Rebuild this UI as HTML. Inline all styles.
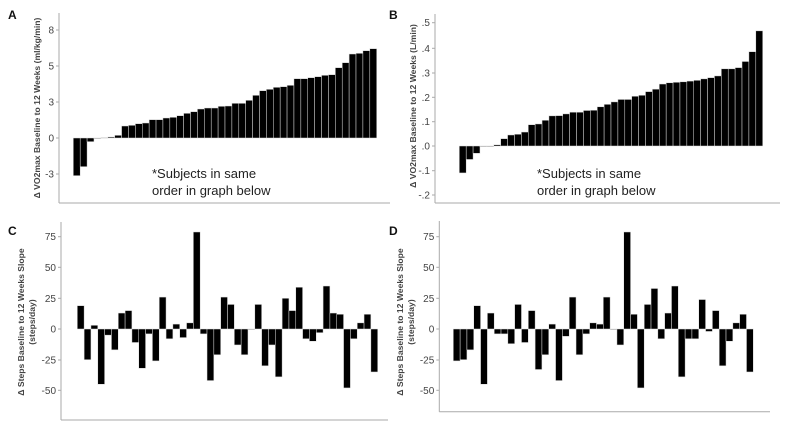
<!DOCTYPE html>
<html><head><meta charset="utf-8"><style>
html,body{margin:0;padding:0;background:#fff;}
svg{display:block;font-family:"Liberation Sans",Arial,sans-serif;}
</style></head><body>
<svg id="s" width="789" height="421" viewBox="0 0 789 421" xmlns="http://www.w3.org/2000/svg">
<g font-weight="bold" font-size="12" fill="#111">
<text x="8" y="19">A</text><text x="389" y="19">B</text>
<text x="8" y="235">C</text><text x="389" y="235">D</text>
</g>
<g font-weight="bold" font-size="8.6" fill="#444" text-anchor="middle">
<text transform="translate(40,108) rotate(-90)">Δ VO2max Baseline to 12 Weeks (ml/kg/min)</text>
<text transform="translate(416,106) rotate(-90)">Δ VO2max Baseline to 12 Weeks (L/min)</text>
<text transform="translate(24,322) rotate(-90)">Δ Steps Baseline to 12 Weeks Slope</text>
<text transform="translate(35,322) rotate(-90)">(steps/day)</text>
<text transform="translate(403,322) rotate(-90)">Δ Steps Baseline to 12 Weeks Slope</text>
<text transform="translate(414,322) rotate(-90)">(steps/day)</text>
</g>
<g font-size="13" fill="#222">
<text x="152" y="178">*Subjects in same</text><text x="152" y="195">order in graph below</text>
<text x="537" y="178">*Subjects in same</text><text x="537" y="195">order in graph below</text>
</g>
<g id="g"></g>
</svg>
<script>
var g=document.getElementById('g'),h='';
function panel(ax,top,x0,x1,bot,axEnd,zero,ppu,vals,ticks){
  h+='<line x1="'+ax+'" y1="'+top+'" x2="'+ax+'" y2="'+bot+'" stroke="#aaa" stroke-width="1"/>';
  h+='<line x1="'+ax+'" y1="'+bot+'" x2="'+axEnd+'" y2="'+bot+'" stroke="#aaa" stroke-width="1"/>';
  ticks.forEach(function(t){var y=t[0];
    h+='<line x1="'+(ax-3)+'" y1="'+y+'" x2="'+ax+'" y2="'+y+'" stroke="#aaa"/>';
    h+='<text x="'+(ax-5)+'" y="'+(y+3.5)+'" font-size="10" fill="#444" text-anchor="end">'+t[1]+'</text>';});
  var w=(x1-x0)/vals.length;
  vals.forEach(function(v,i){var hh=v*ppu,y=hh>=0?zero-hh:zero,a=Math.abs(hh);
    if(a<0.6)a=0.6;
    h+='<rect x="'+(x0+i*w)+'" y="'+y+'" width="'+w+'" height="'+a+'" fill="#000" stroke="#ddd" stroke-width="0.5"/>';});
}
var A=[527,500,425,414,413,411,406,378,376,371,369,359,359,354,352,347,340,335,327,324,324,319,318,310,310,301,286,272,268,262,260,256,236,236,233,230,226,224,203,188,162,160,152,146].map(function(z){return (414-z)/3;});
panel(59,13,73.3,376.7,203,390,138,1,A,[[30,'8'],[66,'5'],[102,'3'],[138,'0'],[174,'-3']]);
var B=[-0.11,-0.055,-0.03,0,0,0.005,0.03,0.045,0.048,0.057,0.087,0.09,0.105,0.123,0.124,0.131,0.138,0.138,0.145,0.146,0.16,0.17,0.18,0.19,0.19,0.203,0.207,0.222,0.232,0.253,0.258,0.26,0.262,0.265,0.268,0.274,0.279,0.286,0.315,0.315,0.32,0.345,0.385,0.47];
panel(435,14,459.3,762.7,203,780,146,245,B,[[22.7,'.5'],[48.3,'.4'],[73,'.3'],[97.3,'.2'],[121.7,'.1'],[146,'.0'],[170.7,'-.1'],[195,'-.2']]);
var C=[19,-25,3,-45,-5,-17,13,15,-11,-32,-4,-26,26,-8,4,-7,5,79,-4,-42,-21,26,20,-13,-21,0,20,-30,-13,-39,25,15,34,-8,-10,-3,35,13,12,-48,-8,5,12,-35];
var ct=[[236.7,'75'],[267.3,'50'],[298.3,'25'],[329,'0'],[360,'-25'],[390.3,'-50']];
panel(61,222,77.3,377.7,420,388,329,1.228,C,ct);
var D=[-26,-25,-17,19,-45,13,-4,-4,-12,20,-11,15,-33,-21,4,-42,-6,26,-21,-4,5,4,26,0,-13,79,12,-48,20,33,-8,13,35,-39,-8,-8,24,-2,15,-30,-10,5,12,-35];
panel(439.3,221,453.3,753.3,411.7,770,329,1.228,D,ct);
g.innerHTML=h;
</script>
</body></html>
